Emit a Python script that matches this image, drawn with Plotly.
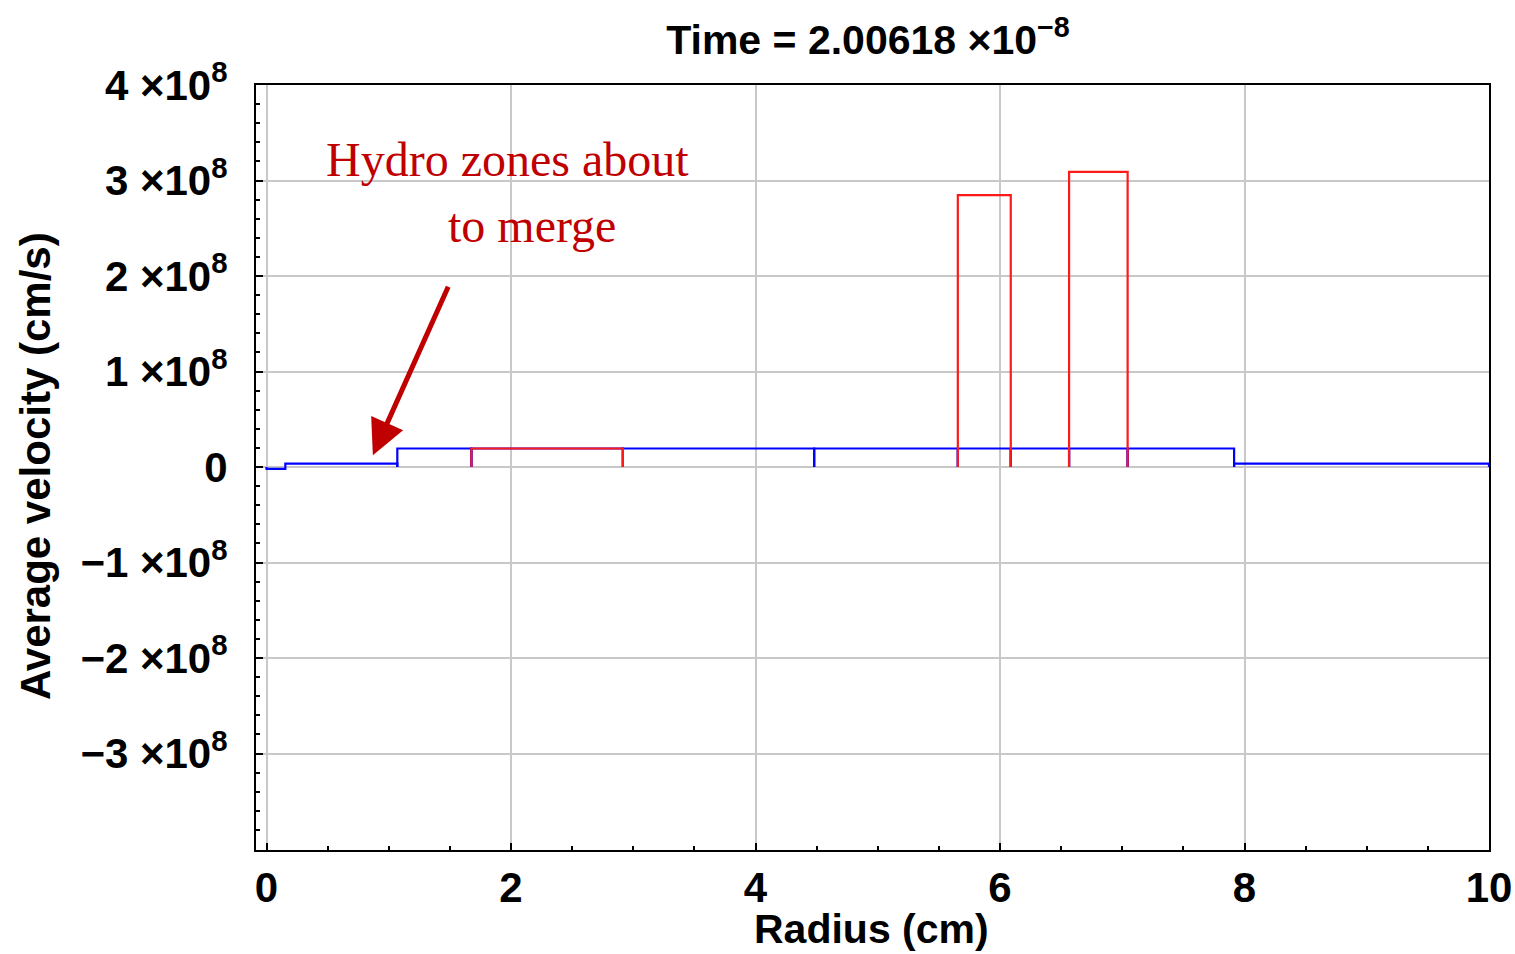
import plotly.graph_objects as go

# Zone edges (cm) and average velocities (cm/s)
blue_edges = [0.0, 0.154, 1.07, 1.676, 2.915, 4.48, 5.655, 6.088, 6.565, 7.044, 7.915, 10.0]
blue_vals = [-2.0e6, 3.6e6, 1.94e7, 1.94e7, 1.94e7, 1.94e7, 1.94e7, 1.94e7, 1.94e7, 1.94e7, 3.6e6]

red_left = [1.676, 5.655, 6.565]
red_right = [2.915, 6.088, 7.044]
red_vals = [1.94e7, 2.846e8, 3.09e8]

y_ticks = [4e8, 3e8, 2e8, 1e8, 0, -1e8, -2e8, -3e8]
y_ticklabels = ["4 ×10<sup>8</sup>", "3 ×10<sup>8</sup>", "2 ×10<sup>8</sup>", "1 ×10<sup>8</sup>", "0",
                "−1 ×10<sup>8</sup>", "−2 ×10<sup>8</sup>", "−3 ×10<sup>8</sup>"]
x_ticks = [0, 2, 4, 6, 8, 10]
x_ticklabels = ["0", "2", "4", "6", "8", "10"]


def boxes(lefts, rights, vals):
    xs, ys = [], []
    for a, b, v in zip(lefts, rights, vals):
        xs += [a, a, b, b, None]
        ys += [0, v, v, 0, None]
    return xs, ys


bx, by = boxes(blue_edges[:-1], blue_edges[1:], blue_vals)
rx, ry = boxes(red_left, red_right, red_vals)

SANS = "Liberation Sans, Arial, sans-serif"
fig = go.Figure()
fig.add_trace(go.Scatter(x=bx, y=by, mode="lines", line=dict(color="#0000ff", width=2.2),
                         connectgaps=False, showlegend=False, hoverinfo="skip"))
fig.add_trace(go.Scatter(x=rx, y=ry, mode="lines", line=dict(color="#ff1a1a", width=2.2),
                         connectgaps=False, showlegend=False, hoverinfo="skip"))

# white background box behind callout text
fig.add_shape(type="rect", xref="x", yref="y", x0=0.225, x1=3.73, y0=2.06e8, y1=4e8,
              fillcolor="white", line=dict(width=0), layer="below")

fig.update_layout(
    width=1515, height=954,
    margin=dict(l=256, r=26, t=85, b=104, autoexpand=False),
    paper_bgcolor="white", plot_bgcolor="white",
    font=dict(family=SANS, color="black", size=42, weight="bold"),
    title=dict(text="Time = 2.00618 ×10<sup>−8</sup>", x=(868 / 1515), xanchor="center", xref="container",
               y=1 - 40 / 954, yanchor="middle", yref="container",
               font=dict(family=SANS, size=41, color="black", weight="bold")),
    showlegend=False,
)

fig.update_xaxes(
    range=[-0.086, 10.0], tickmode="array", tickvals=x_ticks, ticktext=x_ticklabels,
    showgrid=True, gridcolor="#c8c8c8", gridwidth=2, zeroline=False, automargin=False,
    showline=True, linecolor="black", linewidth=2, mirror=True,
    ticks="inside", ticklen=7, tickwidth=1.5, tickcolor="black",
    ticklabelstandoff=0,
    minor=dict(tickmode="linear", tick0=0, dtick=0.5, ticks="inside", ticklen=4,
               tickwidth=1.5, tickcolor="black", showgrid=False),
    tickfont=dict(family=SANS, size=42, weight="bold"),
)
fig.update_yaxes(
    range=[-4.01e8, 4e8], tickmode="array", tickvals=y_ticks, ticktext=y_ticklabels,
    showgrid=True, gridcolor="#c8c8c8", gridwidth=2, zeroline=False, automargin=False,
    showline=True, linecolor="black", linewidth=2, mirror=True,
    ticks="inside", ticklen=7, tickwidth=1.5, tickcolor="black",
    ticklabelstandoff=18,
    minor=dict(tickmode="linear", tick0=0, dtick=2e7, ticks="inside", ticklen=4,
               tickwidth=1.5, tickcolor="black", showgrid=False),
    tickfont=dict(family=SANS, size=42, weight="bold"),
)

# axis titles
fig.add_annotation(text="Radius (cm)", xref="paper", yref="paper", x=(871 - 256) / 1233,
                   y=(850 - 929) / 765,
                   showarrow=False, xanchor="center", yanchor="middle",
                   font=dict(family=SANS, size=41, color="black", weight="bold"))
fig.add_annotation(text="Average velocity (cm/s)", xref="paper", yref="paper",
                   x=(35 - 256) / 1233, y=(850 - 466) / 765, textangle=-90,
                   showarrow=False, xanchor="center", yanchor="middle",
                   font=dict(family=SANS, size=42, color="black", weight="bold"))

# callout text
SERIF = "Liberation Serif, Times New Roman, serif"
fig.add_annotation(text="Hydro zones about", xref="paper", yref="paper",
                   x=(507 - 256) / 1233, y=(850 - 159) / 765, showarrow=False,
                   xanchor="center", yanchor="middle",
                   font=dict(family=SERIF, size=48, color="#c00000", weight="normal"))
fig.add_annotation(text="to merge", xref="paper", yref="paper",
                   x=(532 - 256) / 1233, y=(850 - 225) / 765, showarrow=False,
                   xanchor="center", yanchor="middle",
                   font=dict(family=SERIF, size=48, color="#c00000", weight="normal"))
# arrow
fig.add_annotation(x=0.87, y=1.24e7, xref="x", yref="y", ax=76, ay=-170,
                   axref="pixel", ayref="pixel", text="", showarrow=True,
                   arrowhead=2, arrowsize=1.4, arrowwidth=5, arrowcolor="#c00000")

fig.write_html("out.html")
